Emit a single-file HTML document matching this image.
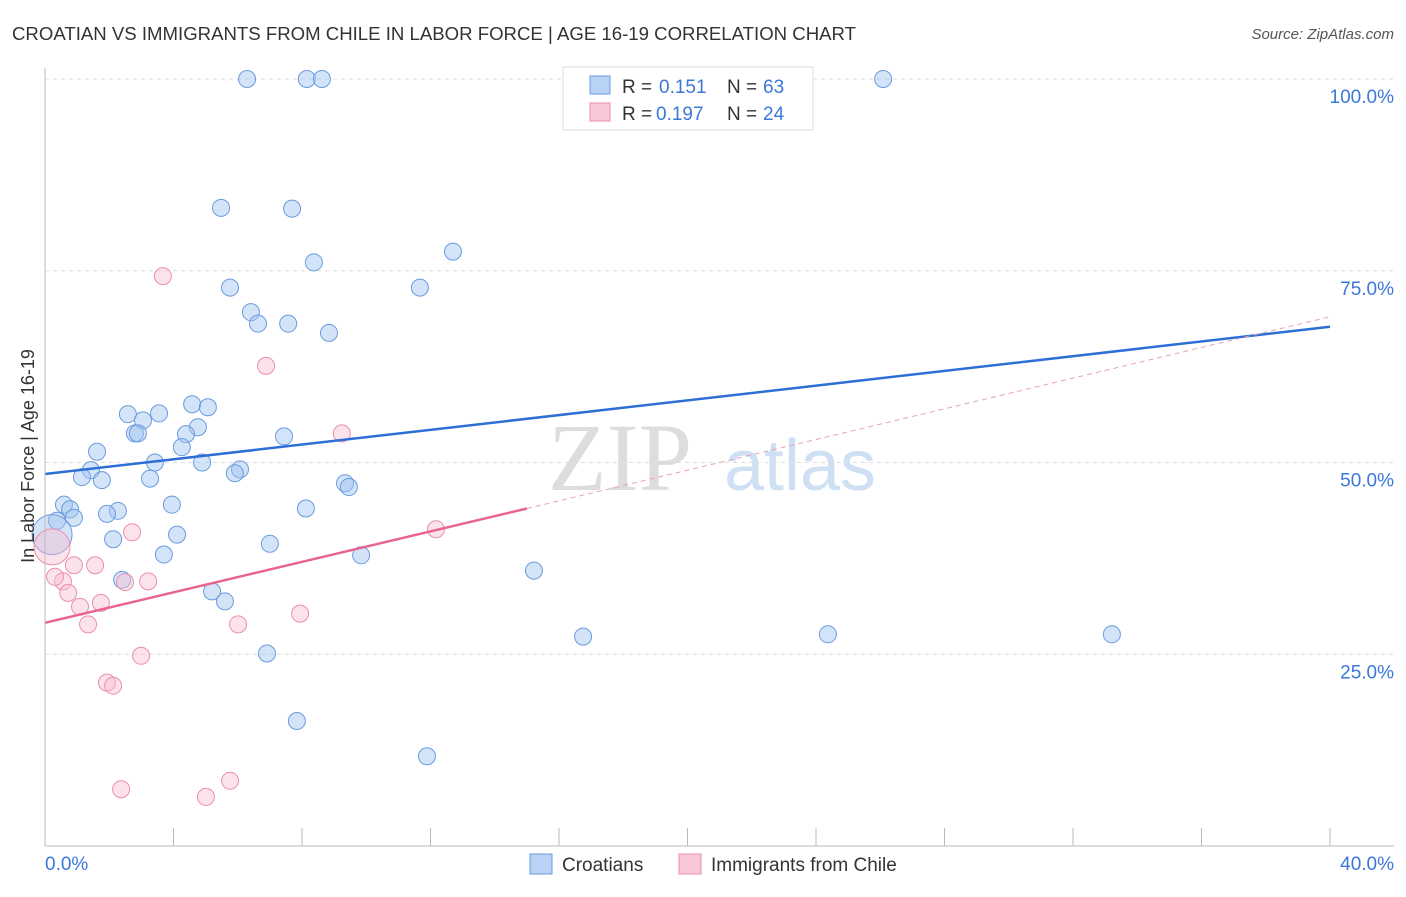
<!DOCTYPE html>
<html><head><meta charset="utf-8"><style>
body{margin:0;background:#fff;font-family:"Liberation Sans",sans-serif}
</style></head><body>
<svg id="chart" width="1406" height="892" xmlns="http://www.w3.org/2000/svg">
<text x="12" y="40" font-size="18" fill="#333" textLength="844" lengthAdjust="spacingAndGlyphs">CROATIAN VS IMMIGRANTS FROM CHILE IN LABOR FORCE | AGE 16-19 CORRELATION CHART</text>
<text x="1394" y="39" font-size="15" fill="#555" text-anchor="end" font-style="italic">Source: ZipAtlas.com</text>
<text x="620" y="490" font-size="96" fill="#ddd" font-family="Liberation Serif,serif" text-anchor="middle">ZIP</text>
<text x="800" y="490" font-size="72" fill="#cfe0f5" text-anchor="middle">atlas</text>
<g id="grid"></g><g id="ticks"></g><g id="marks"></g><g id="lines"></g>
<line x1="45" y1="68" x2="45" y2="846" stroke="#bbb"/>
<line x1="45" y1="846" x2="1394" y2="846" stroke="#bbb"/>
<text x="45" y="870" font-size="19" fill="#3b78d8">0.0%</text>
<text x="1394" y="870" font-size="19" fill="#3b78d8" text-anchor="end">40.0%</text>
<text transform="translate(34,456) rotate(-90)" font-size="18" fill="#333" text-anchor="middle">In Labor Force | Age 16-19</text>
<g>
<rect x="563" y="67" width="250" height="63" fill="#fff" stroke="#ddd"/>
<rect x="590" y="76" width="20" height="18" fill="#b8d3f5" stroke="#6a9be0"/>
<text x="622" y="93" font-size="19" fill="#333">R =</text><text x="659" y="93" font-size="19" fill="#3b78d8">0.151</text>
<text x="727" y="93" font-size="19" fill="#333">N =</text><text x="763" y="93" font-size="19" fill="#3b78d8">63</text>
<rect x="590" y="103" width="20" height="18" fill="#f9c8d6" stroke="#eb8fab"/>
<text x="622" y="120" font-size="19" fill="#333">R =</text><text x="656" y="120" font-size="19" fill="#3b78d8">0.197</text>
<text x="727" y="120" font-size="19" fill="#333">N =</text><text x="763" y="120" font-size="19" fill="#3b78d8">24</text>
</g>
<g>
<rect x="530" y="854" width="22" height="20" fill="#b8d3f5" stroke="#6a9be0"/>
<text x="562" y="871" font-size="19" fill="#333">Croatians</text>
<rect x="679" y="854" width="22" height="20" fill="#f9c8d6" stroke="#eb8fab"/>
<text x="711" y="871" font-size="19" fill="#333">Immigrants from Chile</text>
</g>
</svg>
<script>
const yTicks=[25,50,75,100];
const yTickLabels=["25.0%","50.0%","75.0%","100.0%"];
const xTicks=[4,8,12,16,20,24,28,32,36,40];
const croatX=[6.29,8.15,8.62,26.09,22.47,5.48,7.69,12.70,8.37,5.76,11.67,6.41,6.63,7.57,8.84,2.58,3.55,4.58,5.07,3.05,4.76,2.80,2.89,4.39,4.26,1.62,3.42,4.89,6.07,5.91,3.27,1.43,1.15,1.77,9.34,9.46,0.59,0.78,3.95,2.27,1.93,0.90,0.37,8.12,2.12,4.11,0.22,7.00,3.70,9.84,15.22,2.40,5.20,5.60,16.75,24.37,33.21,6.91,7.84,11.89,7.44];
const croatY=[100,100,100,100,100,83.2,83.1,77.5,76.1,72.8,72.8,69.6,68.1,68.1,66.9,56.3,56.4,57.6,57.2,55.5,54.6,53.8,53.8,53.7,52.0,51.4,50.0,50.0,49.1,48.6,47.9,49.0,48.1,47.7,47.3,46.8,44.5,43.9,44.5,43.7,43.3,42.8,42.4,44.0,40.0,40.6,40.6,39.4,38.0,37.9,35.9,34.7,33.2,31.9,27.3,27.6,27.6,25.1,16.3,11.7,53.4];
const croatR=[8.5,8.5,8.5,8.5,8.5,8.5,8.5,8.5,8.5,8.5,8.5,8.5,8.5,8.5,8.5,8.5,8.5,8.5,8.5,8.5,8.5,8.5,8.5,8.5,8.5,8.5,8.5,8.5,8.5,8.5,8.5,8.5,8.5,8.5,8.5,8.5,8.5,8.5,8.5,8.5,8.5,8.5,8.5,8.5,8.5,8.5,20,8.5,8.5,8.5,8.5,8.5,8.5,8.5,8.5,8.5,8.5,8.5,8.5,8.5,8.5];
const chileX=[3.67,6.88,9.24,12.17,2.71,0.22,1.56,0.90,0.56,0.31,2.49,3.21,0.72,1.09,1.74,1.34,6.01,7.94,2.99,1.93,2.12,5.76,5.01,2.37];
const chileY=[74.3,62.6,53.8,41.3,40.9,39.0,36.6,36.6,34.5,35.1,34.4,34.5,33.0,31.2,31.7,28.9,28.9,30.3,24.8,21.3,20.9,8.5,6.4,7.4];
const chileR=[8.5,8.5,8.5,8.5,8.5,18,8.5,8.5,8.5,8.5,8.5,8.5,8.5,8.5,8.5,8.5,8.5,8.5,8.5,8.5,8.5,8.5,8.5,8.5];
const croatTrend=[[0,48.5],[40,67.7]];
const chileTrend=[[0,29.1],[15,44.0],[40,69.0]];
const NS="http://www.w3.org/2000/svg";
const sx=v=>45+v/40*1285, sy=v=>846-v/100*767;
function mk(tag,attrs,parent){const e=document.createElementNS(NS,tag);for(const k in attrs)e.setAttribute(k,attrs[k]);document.getElementById(parent).appendChild(e);return e;}
yTicks.forEach((t,i)=>{
 const l=mk('line',{x1:45,x2:1394,y1:sy(t),y2:sy(t),stroke:'#ddd','stroke-dasharray':'4,4'},'grid');
 
 
 const tx=mk('text',{x:1394,y:sy(t)+24,'font-size':19,fill:'#3b78d8','text-anchor':'end'},'grid');
 tx.textContent=yTickLabels[i];
 
 
});
xTicks.forEach(t=>{
 const l=mk('line',{x1:sx(t),x2:sx(t),y1:828,y2:846,stroke:'#bbb'},'ticks');
 
 
});
croatX.forEach((x,i)=>{
 const c=mk('circle',{cx:sx(x),cy:sy(croatY[i]),r:croatR[i],fill:'rgba(160,195,240,0.45)',stroke:'#6a9be0','stroke-width':1},'marks');
 
 
});
chileX.forEach((x,i)=>{
 const c=mk('circle',{cx:sx(x),cy:sy(chileY[i]),r:chileR[i],fill:'rgba(248,190,208,0.45)',stroke:'#eb8fab','stroke-width':1},'marks');
 
 
});
const bl=mk('line',{x1:sx(croatTrend[0][0]),y1:sy(croatTrend[0][1]),x2:sx(croatTrend[1][0]),y2:sy(croatTrend[1][1]),stroke:'#2e6fd6','stroke-width':2.5},'lines');


const pl=mk('line',{x1:sx(chileTrend[0][0]),y1:sy(chileTrend[0][1]),x2:sx(chileTrend[1][0]),y2:sy(chileTrend[1][1]),stroke:'#e8648e','stroke-width':2.5},'lines');


const pd=mk('line',{x1:sx(chileTrend[1][0]),y1:sy(chileTrend[1][1]),x2:sx(chileTrend[2][0]),y2:sy(chileTrend[2][1]),stroke:'#e8a0b6','stroke-width':1,'stroke-dasharray':'5,4'},'lines');


</script>
</body></html>
